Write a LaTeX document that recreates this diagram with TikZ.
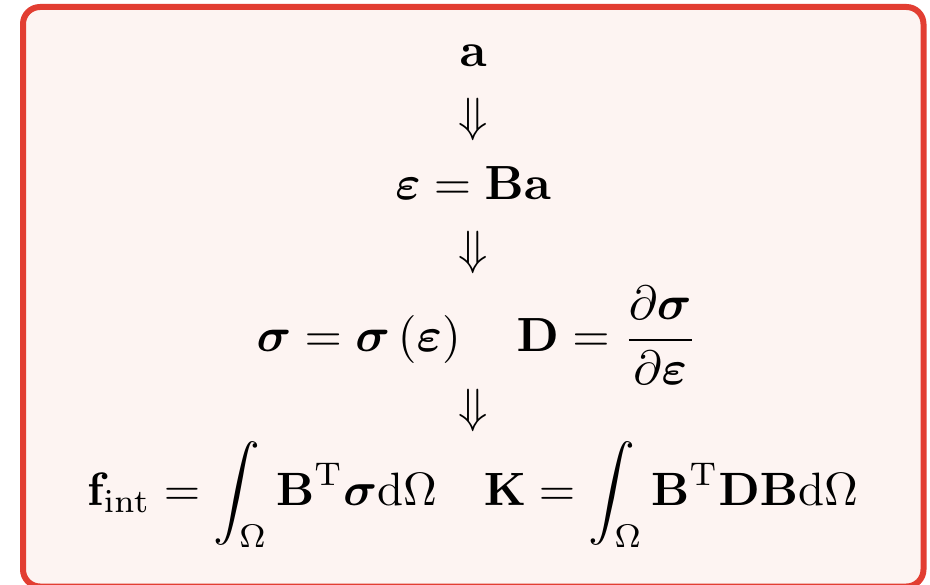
\documentclass[tikz,border=0pt]{standalone}
\usepackage{graphicx}
\usepackage{amsmath,bm}
\definecolor{boxframe}{RGB}{226,62,50}
\definecolor{boxfill}{RGB}{253,244,242}
\newcommand{\bigmath}[2][4.8]{\scalebox{#1}{#2}}
\tikzset{
  eq/.style={inner sep=0pt, anchor=base},
  darrow/.style={inner sep=0pt, anchor=center},
}
\begin{document}
\begin{tikzpicture}[x=1pt,y=-1pt]
\useasboundingbox (0,0) rectangle (930,585);
\draw[boxframe, fill=boxfill, line width=6pt, rounded corners=17pt] (23,7) rectangle (923.5,586.5);
\node[eq] (a) at (473,67) {\bigmath{$\mathbf{a}$}};
\node[darrow] (d1) at (473,120) {\bigmath{$\Downarrow$}};
\node[eq] (eps) at (473,200) {\bigmath{$\bm{\varepsilon}=\mathbf{B}\mathbf{a}$}};
\node[darrow] (d2) at (473,253) {\bigmath{$\Downarrow$}};
\node[eq] (sig) at (477,352) {\bigmath{$\bm{\sigma}=\bm{\sigma}\left(\bm{\varepsilon}\right)\quad\mathbf{D}=\dfrac{\partial\bm{\sigma}}{\partial\bm{\varepsilon}}$}};
\node[darrow] (d3) at (473,411) {\bigmath{$\Downarrow$}};
\node[eq] (f) at (472.5,505) {\bigmath[4.68]{$\displaystyle\mathbf{f}_{\mathrm{int}}=\int_{\Omega}\mathbf{B}^{\mathrm{T}}\bm{\sigma}\mathrm{d}\Omega\quad\mathbf{K}=\int_{\Omega}\mathbf{B}^{\mathrm{T}}\mathbf{D}\mathbf{B}\mathrm{d}\Omega$}};
\end{tikzpicture}
\end{document}
